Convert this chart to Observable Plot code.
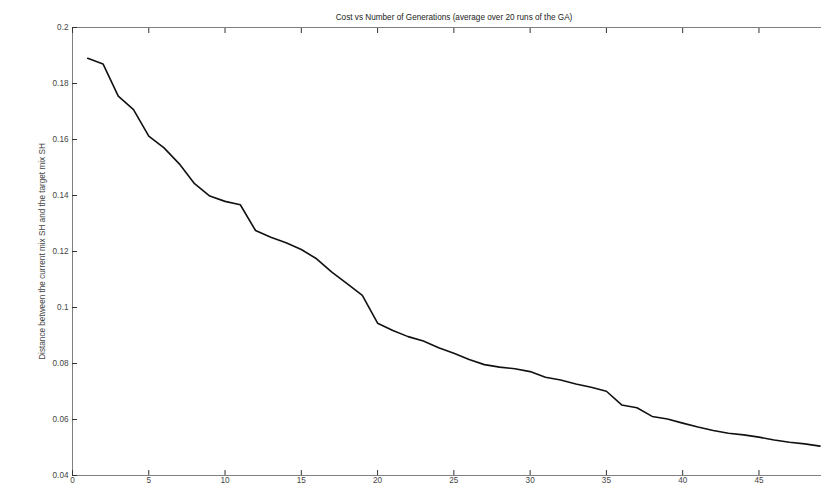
<!DOCTYPE html>
<html>
<head>
<meta charset="utf-8">
<script src="https://cdn.jsdelivr.net/npm/d3@7"></script>
<script src="https://cdn.jsdelivr.net/npm/@observablehq/plot@0.6"></script>
<style>
  html, body { margin: 0; padding: 0; background: #fff; }
  #chart svg { display: block; }
</style>
</head>
<body>
<div id="chart"></div>
<script>
const titleText = "Cost vs Number of Generations (average over 20 runs of the GA)";
const yLabel = "Distance between the current mix SH and the target mix SH";
const generations = d3.range(1, 50);
const cost = [0.189,0.187,0.1755,0.1707,0.1612,0.157,0.1513,0.1442,0.1398,0.1379,
  0.1367,0.1275,0.1251,0.1231,0.1207,0.1174,0.1126,0.1085,0.1043,0.0944,
  0.0918,0.0896,0.088,0.0856,0.0837,0.0814,0.0796,0.0787,0.0781,0.0771,
  0.0751,0.0741,0.0727,0.0715,0.0701,0.0652,0.0642,0.0611,0.0602,0.0587,
  0.0573,0.0561,0.0551,0.0545,0.0537,0.0527,0.0519,0.0513,0.0505];
const xTicks = [0, 5, 10, 15, 20, 25, 30, 35, 40, 45];
const yTicks = [0.04, 0.06, 0.08, 0.1, 0.12, 0.14, 0.16, 0.18, 0.2];
const yTickLabels = ["0.04","0.06","0.08","0.1","0.12","0.14","0.16","0.18","0.2"];

const data = generations.map((g, i) => ({g, c: cost[i]}));
const axisColor = "#7f7f7f";
const blank = () => "";

const chart = Plot.plot({
  width: 821,
  height: 491,
  marginLeft: 72,
  marginRight: 0,
  marginTop: 27,
  marginBottom: 16,
  style: {fontFamily: "'Liberation Sans', Arial, sans-serif", fontSize: "8.2px", color: "#333", background: "#fff"},
  x: {domain: [0, 49.1]},
  y: {domain: [0.04, 0.2]},
  marks: [
    Plot.ruleY([0.04, 0.2], {stroke: axisColor, strokeWidth: 1}),
    Plot.ruleX([0], {stroke: axisColor, strokeWidth: 1}),
    Plot.axisX({anchor: "bottom", ticks: xTicks, tickSize: -5, tickFormat: blank, stroke: "#333", label: null}),
    Plot.axisX({anchor: "top", ticks: xTicks, tickSize: -5, tickFormat: blank, stroke: "#333", label: null}),
    Plot.axisX({anchor: "bottom", ticks: xTicks, tickSize: 0, tickPadding: 2, label: null, fill: "#444"}),
    Plot.axisY({anchor: "left", ticks: yTicks, tickSize: -5, tickFormat: blank, stroke: "#333", label: null}),
    Plot.axisY({anchor: "left", ticks: yTicks, tickSize: 0, tickPadding: 4,
      tickFormat: d => yTickLabels[yTicks.findIndex(t => Math.abs(t - d) < 1e-9)],
      fill: "#444", label: yLabel, labelAnchor: "center", labelOffset: 33, labelArrow: "none"}),
    Plot.line(data, {x: "g", y: "c", stroke: "#111", strokeWidth: 1.6}),
    Plot.text([titleText], {frameAnchor: "top", dy: -13, dx: 7, text: d => d, fill: "#222", fontSize: 8.2})
  ]
});
document.getElementById("chart").appendChild(chart);
</script>
</body>
</html>
